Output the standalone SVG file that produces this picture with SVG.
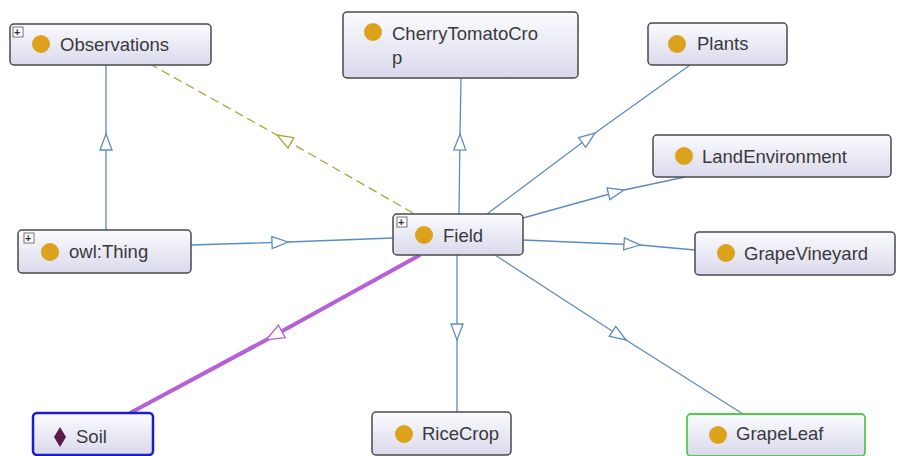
<svg xmlns="http://www.w3.org/2000/svg" width="901" height="456" viewBox="0 0 901 456">
<defs>
<linearGradient id="g" x1="0" y1="0" x2="0" y2="1">
<stop offset="0" stop-color="#fbfbfe"/>
<stop offset="1" stop-color="#d9d9ec"/>
</linearGradient>
<marker id="ab" markerUnits="userSpaceOnUse" markerWidth="20" markerHeight="16" refX="17" refY="7" orient="auto" viewBox="0 0 20 14">
<path d="M1,1 L17,7 L1,13 Z" fill="#fff" stroke="#5b8cbf" stroke-width="1.3"/>
</marker>
<marker id="ay" markerUnits="userSpaceOnUse" markerWidth="20" markerHeight="16" refX="17" refY="7" orient="auto" viewBox="0 0 20 14">
<path d="M1,1 L17,7 L1,13 Z" fill="#fff" stroke="#a8a830" stroke-width="1.3"/>
</marker>
<marker id="ap" markerUnits="userSpaceOnUse" markerWidth="22" markerHeight="18" refX="19" refY="8" orient="auto" viewBox="0 0 22 16">
<path d="M1,1 L19,8 L1,15 Z" fill="#fff" stroke="#b65fd6" stroke-width="1.3"/>
</marker>
</defs>
<style>
.n{fill:url(#g);stroke:#4a4a4a;stroke-width:1.5}
.t{font-family:"Liberation Sans",Arial,sans-serif;font-size:18.5px;fill:#3a3a3a}
.c{fill:#dca21c}
.e{fill:none;stroke:#5b8cbf;stroke-width:1.3;marker-mid:url(#ab)}
.pl{fill:#fff;stroke:#555;stroke-width:0.8}
.pt{font-family:"Liberation Sans",Arial,sans-serif;font-size:11px;font-weight:bold;fill:#333}
</style>
<rect width="901" height="456" fill="#fff"/>
<g id="connectors">
<path class="e" d="M106,230 L106,134 L106,65"/>
<path d="M413,213 L277,135 L150,64" fill="none" stroke="#a8a830" stroke-width="1.3" stroke-dasharray="9,5" marker-mid="url(#ay)"/>
<path class="e" d="M191,245 L288,242 L393,238"/>
<path class="e" d="M459,214 L460,134 L461,78"/>
<path class="e" d="M487,214 L595,133 L690,65"/>
<path class="e" d="M523,218 L624,190 L685,177"/>
<path class="e" d="M523,240 L640,245 L695,250"/>
<path class="e" d="M457,255 L457,340 L457,412"/>
<path class="e" d="M495,255 L626,340 L743,414"/>
<path d="M420,255 L266,340 L130,413" fill="none" stroke="#b65fd6" stroke-width="4" marker-mid="url(#ap)"/>
</g>
<g id="Observations">
<rect class="n" x="10" y="24" width="201" height="41" rx="4"/>
<rect class="pl" x="13" y="27" width="10" height="10"/>
<text class="pt" x="14" y="36">+</text>
<circle class="c" cx="41" cy="44" r="9"/>
<text class="t" x="60" y="51">Observations</text>
</g>
<g id="CherryTomatoCrop">
<rect class="n" x="343" y="12" width="235" height="66" rx="4"/>
<circle class="c" cx="373" cy="32" r="9"/>
<text class="t" x="392" y="40">CherryTomatoCro</text>
<text class="t" x="392" y="64">p</text>
</g>
<g id="Plants">
<rect class="n" x="648" y="23" width="139" height="42" rx="4"/>
<circle class="c" cx="677" cy="44" r="9"/>
<text class="t" x="697" y="50">Plants</text>
</g>
<g id="LandEnvironment">
<rect class="n" x="653" y="135" width="238" height="42" rx="4"/>
<circle class="c" cx="684" cy="156" r="9"/>
<text class="t" x="702" y="163">LandEnvironment</text>
</g>
<g id="GrapeVineyard">
<rect class="n" x="695" y="232" width="200" height="43" rx="4"/>
<circle class="c" cx="726" cy="253" r="9"/>
<text class="t" x="744" y="260">GrapeVineyard</text>
</g>
<g id="owlThing">
<rect class="n" x="18" y="230" width="173" height="43" rx="4"/>
<rect class="pl" x="24" y="233" width="10" height="10"/>
<text class="pt" x="25" y="242">+</text>
<circle class="c" cx="50" cy="252" r="9"/>
<text class="t" x="69" y="258">owl:Thing</text>
</g>
<g id="Field">
<rect class="n" x="393" y="214" width="130" height="41" rx="4"/>
<rect class="pl" x="397" y="217" width="10" height="10"/>
<text class="pt" x="398" y="226">+</text>
<circle class="c" cx="424" cy="235" r="9"/>
<text class="t" x="443" y="242">Field</text>
</g>
<g id="Soil">
<rect x="33" y="413" width="120" height="42" rx="4" fill="url(#g)" stroke="#1c1ccc" stroke-width="2.5"/>
<path d="M60,427 L66,437 L60,447 L54,437 Z" fill="#5a1a4a"/>
<text class="t" x="76" y="443">Soil</text>
</g>
<g id="RiceCrop">
<rect class="n" x="372" y="412" width="139" height="43" rx="4"/>
<circle class="c" cx="404" cy="434" r="9"/>
<text class="t" x="422" y="440">RiceCrop</text>
</g>
<g id="GrapeLeaf">
<rect x="687" y="414" width="178" height="42" rx="4" fill="url(#g)" stroke="#4fcc4f" stroke-width="1.8"/>
<circle class="c" cx="718" cy="435" r="9"/>
<text class="t" x="736" y="440">GrapeLeaf</text>
</g>
</svg>
